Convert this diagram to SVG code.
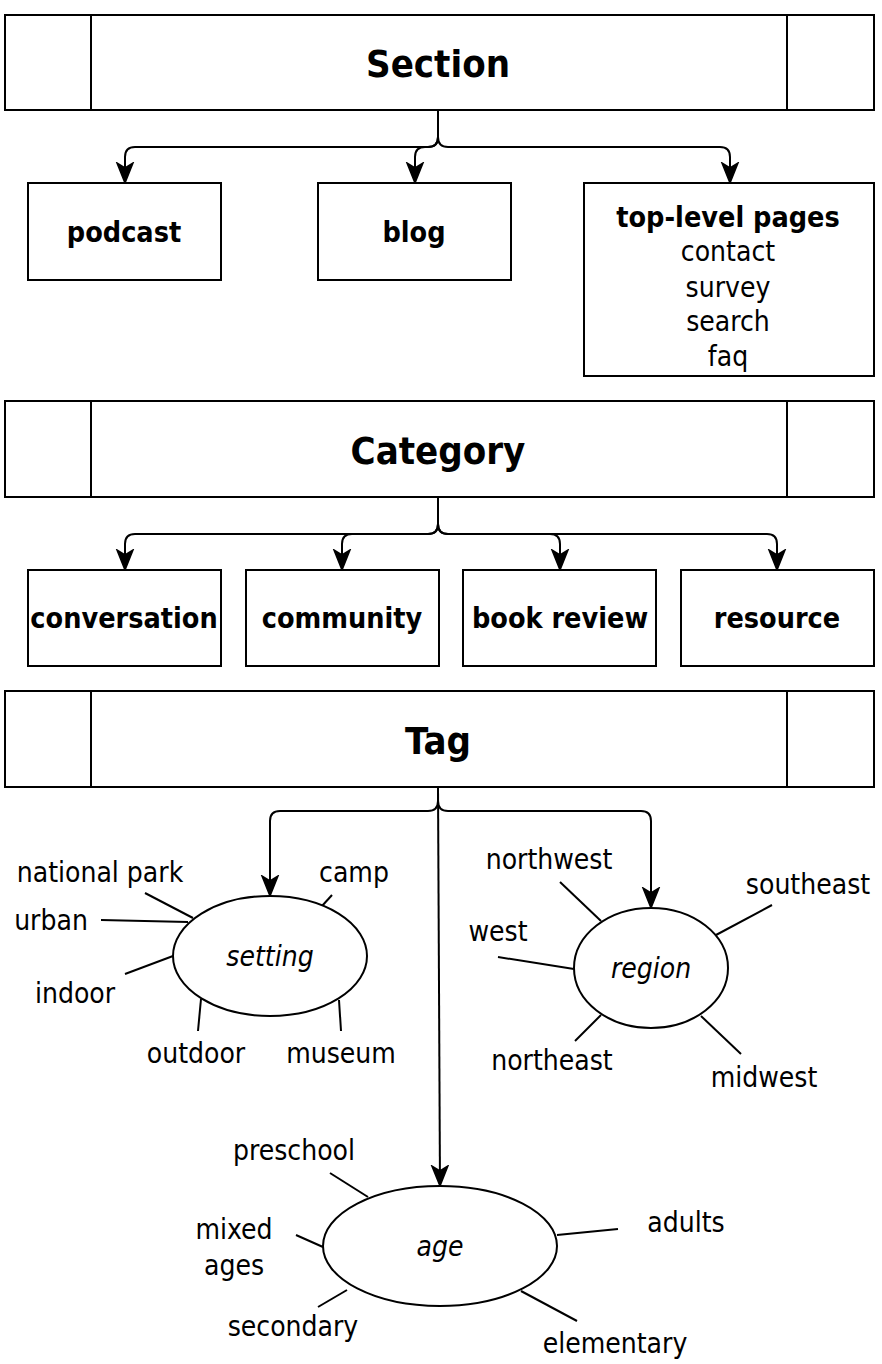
<svg xmlns="http://www.w3.org/2000/svg" width="882" height="1364" viewBox="0 0 882 1364">
<style>
text{font-family:"DejaVu Sans Condensed","DejaVu Sans",sans-serif;font-stretch:condensed;fill:#000;text-anchor:middle;dominant-baseline:central}
.t{font-size:38px;font-weight:bold}
.b{font-size:28.5px;font-weight:bold}
.l{font-size:28px}
.i{font-size:28px;font-style:italic}
.box{fill:#fff;stroke:#000;stroke-width:2}
.c{fill:none;stroke:#000;stroke-width:2}
.s{fill:none;stroke:#000;stroke-width:2}
</style>
<defs>
<marker id="ad" markerWidth="22" markerHeight="20" viewBox="0 0 22 20" refX="21" refY="10" orient="auto" markerUnits="userSpaceOnUse">
<path d="M1,2 L21,10 L1,18 L6,10 Z" fill="#000" stroke="#000" stroke-width="1.5" stroke-linejoin="miter"/>
</marker>
</defs>
<rect width="882" height="1364" fill="#fff"/>
<g id="connectors">
<path class="c" marker-end="url(#ad)" d="M438,110 V137 Q438,147 428,147 H135 Q125,147 125,157 V183"/>
<path class="c" marker-end="url(#ad)" d="M438,110 V137 Q438,147 428,147 H425 Q415,147 415,157 V183"/>
<path class="c" marker-end="url(#ad)" d="M438,110 V137 Q438,147 448,147 H720 Q730,147 730,157 V183"/>
<path class="c" marker-end="url(#ad)" d="M438,497 V524 Q438,534 428,534 H135 Q125,534 125,544 V570"/>
<path class="c" marker-end="url(#ad)" d="M438,497 V524 Q438,534 428,534 H352 Q342,534 342,544 V570"/>
<path class="c" marker-end="url(#ad)" d="M438,497 V524 Q438,534 448,534 H550 Q560,534 560,544 V570"/>
<path class="c" marker-end="url(#ad)" d="M438,497 V524 Q438,534 448,534 H767 Q777,534 777,544 V570"/>
<path class="c" marker-end="url(#ad)" d="M438,787 V801 Q438,811 428,811 H280 Q270,811 270,821 V896"/>
<path class="c" marker-end="url(#ad)" d="M438,787 V801 Q438,811 448,811 H641 Q651,811 651,821 V908"/>
<path class="c" marker-end="url(#ad)" d="M438,787 L440,1186"/>
</g>
<g id="section">
<rect class="box" x="5" y="15" width="869" height="95"/>
<line class="s" x1="91" y1="15" x2="91" y2="110"/>
<line class="s" x1="787" y1="15" x2="787" y2="110"/>
<text class="t" x="438" y="64">Section</text>
</g>
<g id="podcast"><rect class="box" x="28" y="183" width="193" height="97"/><text class="b" x="124" y="232">podcast</text></g>
<g id="blog"><rect class="box" x="318" y="183" width="193" height="97"/><text class="b" x="414" y="232">blog</text></g>
<g id="top-level-pages"><rect class="box" x="584" y="183" width="290" height="193"/>
<text class="b" x="728" y="217">top-level pages</text>
<text class="l" x="728" y="251">contact</text>
<text class="l" x="728" y="287">survey</text>
<text class="l" x="728" y="321">search</text>
<text class="l" x="728" y="356">faq</text>
</g>
<g id="category">
<rect class="box" x="5" y="401" width="869" height="96"/>
<line class="s" x1="91" y1="401" x2="91" y2="497"/>
<line class="s" x1="787" y1="401" x2="787" y2="497"/>
<text class="t" x="438" y="451">Category</text>
</g>
<g id="conversation"><rect class="box" x="28" y="570" width="193" height="96"/><text class="b" x="124" y="618">conversation</text></g>
<g id="community"><rect class="box" x="246" y="570" width="193" height="96"/><text class="b" x="342" y="618">community</text></g>
<g id="book-review"><rect class="box" x="463" y="570" width="193" height="96"/><text class="b" x="560" y="618">book review</text></g>
<g id="resource"><rect class="box" x="681" y="570" width="193" height="96"/><text class="b" x="777" y="618">resource</text></g>
<g id="tag">
<rect class="box" x="5" y="691" width="869" height="96"/>
<line class="s" x1="91" y1="691" x2="91" y2="787"/>
<line class="s" x1="787" y1="691" x2="787" y2="787"/>
<text class="t" x="438" y="741">Tag</text>
</g>
<g id="setting">
<line class="s" x1="145" y1="893" x2="193" y2="918"/>
<line class="s" x1="101" y1="920" x2="188" y2="922"/>
<line class="s" x1="125" y1="974" x2="173" y2="956"/>
<line class="s" x1="198" y1="1031" x2="201" y2="999"/>
<line class="s" x1="341" y1="1031" x2="339" y2="1000"/>
<line class="s" x1="322" y1="906" x2="332" y2="895"/>
<ellipse class="box" cx="270" cy="956" rx="97" ry="60"/>
<text class="i" x="270" y="956">setting</text>
<text class="l" x="100" y="872">national park</text>
<text class="l" x="51" y="920">urban</text>
<text class="l" x="75" y="993">indoor</text>
<text class="l" x="196" y="1053">outdoor</text>
<text class="l" x="341" y="1053">museum</text>
<text class="l" x="354" y="872">camp</text>
</g>
<g id="region">
<line class="s" x1="560" y1="882" x2="601" y2="921"/>
<line class="s" x1="772" y1="905" x2="716" y2="935"/>
<line class="s" x1="498" y1="957" x2="574" y2="969"/>
<line class="s" x1="575" y1="1041" x2="601" y2="1015"/>
<line class="s" x1="741" y1="1054" x2="701" y2="1016"/>
<ellipse class="box" cx="651" cy="968" rx="77" ry="60"/>
<text class="i" x="651" y="968">region</text>
<text class="l" x="549" y="859">northwest</text>
<text class="l" x="808" y="884">southeast</text>
<text class="l" x="498" y="931">west</text>
<text class="l" x="552" y="1060">northeast</text>
<text class="l" x="764" y="1077">midwest</text>
</g>
<g id="age">
<line class="s" x1="330" y1="1173" x2="368" y2="1197"/>
<line class="s" x1="296" y1="1235" x2="323" y2="1247"/>
<line class="s" x1="618" y1="1229" x2="557" y2="1235"/>
<line class="s" x1="318" y1="1307" x2="347" y2="1290"/>
<line class="s" x1="521" y1="1291" x2="577" y2="1321"/>
<ellipse class="box" cx="440" cy="1246" rx="117" ry="60"/>
<text class="i" x="440" y="1246">age</text>
<text class="l" x="294" y="1150">preschool</text>
<text class="l" x="234" y="1229">mixed</text>
<text class="l" x="234" y="1265">ages</text>
<text class="l" x="686" y="1222">adults</text>
<text class="l" x="293" y="1326">secondary</text>
<text class="l" x="615" y="1343">elementary</text>
</g>
</svg>
